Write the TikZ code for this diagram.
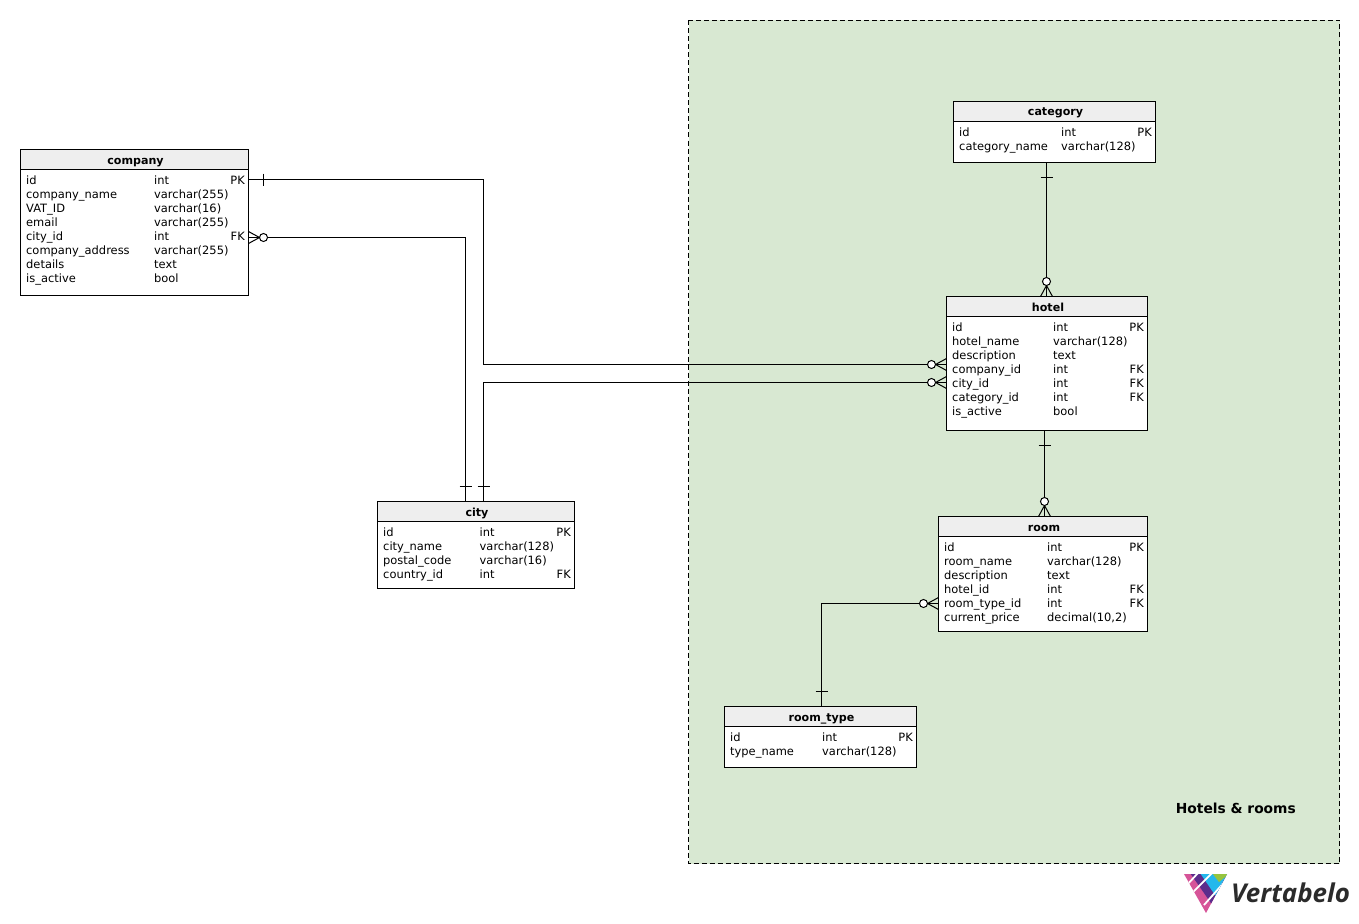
\documentclass[tikz,border=0pt]{standalone}
\usepackage{fontspec}
\setmainfont{DejaVu Sans}
\newfontfamily\logofont{Open Sans}
\usetikzlibrary{calc}
\definecolor{ink}{RGB}{0,0,0}
\definecolor{zonegreen}{RGB}{216,232,210}
\definecolor{headgrey}{RGB}{238,238,238}
\definecolor{logopink}{RGB}{214,84,152}
\definecolor{logopurple}{RGB}{92,45,140}
\definecolor{logoblue}{RGB}{36,184,236}
\definecolor{logogreen}{RGB}{150,196,62}
\definecolor{logotext}{RGB}{43,43,43}
\tikzset{
    line cap=butt,
    tablebox/.style={
        rectangle,
        draw=ink,
        line width=1pt,
        fill=white,
        anchor=north west,
        outer sep=0pt,
        inner sep=0pt
    },
    tablehead/.style={
        rectangle,
        draw=ink,
        line width=1pt,
        fill=headgrey,
        anchor=north west,
        outer sep=0pt,
        inner sep=0pt,
        text height=11pt,
        text depth=2pt,
        font=\fontsize{11.1}{14}\selectfont\bfseries
    },
    rowtext/.style={
        anchor=west,
        inner sep=0pt,
        text height=11pt,
        text depth=2pt,
        font=\fontsize{11.45}{14}\selectfont
    },
    keytext/.style={rowtext, anchor=east},
    relation/.style={draw=ink, line width=1pt},
    zonebox/.style={
        draw=ink,
        line width=1pt,
        fill=zonegreen,
        dash pattern=on 5pt off 3pt
    },
    zonetitle/.style={
        inner sep=0pt,
        font=\fontsize{13.8}{16}\selectfont\bfseries
    },
    logogap/.style={draw=white, line width=1.8pt},
    onemark/.pic={
        \draw[relation] (0,-6) -- (0,6);
    },
    manymark/.pic={
        \draw[relation] (0,-6) -- (-11,0) -- (0,6);
        \draw[relation] (-11,0) -- (0,0);
        \draw[relation, fill=white] (-15,0) circle (4);
    }
}
% name, left, top, width, height, col2, key right edge, rows
\newcommand{\dbtable}[8]{
    \node[tablebox, minimum width=#4pt, minimum height=#5pt] (#1) at (#2,#3) {};
    \node[tablehead, minimum width=#4pt, minimum height=20pt] (#1-head) at (#2,#3) {\hspace*{2pt}\detokenize{#1}};
    \foreach \cname/\ctype/\ckey [count=\i from 0] in {#8} {
        \node[rowtext] (#1-\cname) at (#2+5.5,#3+30+14*\i) {\detokenize\expandafter{\cname}};
        \node[rowtext] at (#2+#6,#3+30+14*\i) {\ctype};
        \node[keytext] at (#2+#7,#3+30+14*\i) {\ckey};
    }
}
\begin{document}
\begin{tikzpicture}[x=1pt, y=-1pt]
\useasboundingbox (0,0) rectangle (1359,923);

% subject area
\path[zonebox] (688.5,20.5) rectangle (1339.5,863.5);
\node[zonetitle, anchor=east] (zonelabel) at (1296,808) {Hotels \& rooms};

% tables
\dbtable{company}{20.5}{149.5}{228}{146}{133.5}{224.5}{
    id/int/PK, company_name/varchar(255)/, VAT_ID/varchar(16)/, email/varchar(255)/,
    city_id/int/FK, company_address/varchar(255)/, details/text/, is_active/bool/}
\dbtable{category}{953.5}{101.5}{202}{61}{107.5}{198.5}{
    id/int/PK, category_name/varchar(128)/}
\dbtable{hotel}{946.5}{296.5}{201}{134}{106.5}{197.5}{
    id/int/PK, hotel_name/varchar(128)/, description/text/, company_id/int/FK,
    city_id/int/FK, category_id/int/FK, is_active/bool/}
\dbtable{room}{938.5}{516.5}{209}{115}{108.5}{205.5}{
    id/int/PK, room_name/varchar(128)/, description/text/, hotel_id/int/FK,
    room_type_id/int/FK, current_price/{decimal(10,2)}/}
\dbtable{city}{377.5}{501.5}{197}{87}{102}{193.5}{
    id/int/PK, city_name/varchar(128)/, postal_code/varchar(16)/, country_id/int/FK}
\dbtable{room_type}{724.5}{706.5}{192}{61}{97.5}{188.5}{
    id/int/PK, type_name/varchar(128)/}

% relations
\draw[relation] (company.east |- company-id) -- (483.5,179.5) |- ([yshift=4pt]hotel.west |- hotel-company_id);
\draw[relation] ([yshift=-2pt]company.east |- company-city_id) -| (city.north -| 465.5,0);
\draw[relation] (city.north -| 483.5,0) |- (hotel.west |- hotel-city_id);
\draw[relation] (category.south -| 1046.5,0) -- (hotel.north -| 1046.5,0);
\draw[relation] (hotel.south -| 1044.5,0) -- (room.north -| 1044.5,0);
\draw[relation] (room_type.north -| 821.5,0) |- ([yshift=-1pt]room.west |- room-room_type_id);

% line ends
\path (263.5,179.5) pic {onemark};
\path (248.5,237.5) pic[rotate=180] {manymark};
\path (465.5,486.5) pic[rotate=90] {onemark};
\path (483.5,486.5) pic[rotate=90] {onemark};
\path (946.5,364.5) pic {manymark};
\path (946.5,382.5) pic {manymark};
\path (1046.5,177) pic[rotate=90] {onemark};
\path (1046.5,296.5) pic[rotate=-90] {manymark};
\path (1044.5,445.5) pic[rotate=90] {onemark};
\path (1044.5,516.5) pic[rotate=-90] {manymark};
\path (821.5,691.5) pic[rotate=90] {onemark};
\path (938.5,603.5) pic {manymark};

% logo
\begin{scope}
\clip (1184,874) -- (1227,874) -- (1206,913) -- cycle;
\fill[logopink] (1184,874) rectangle (1227,913);
\fill[logopurple] (1190,873) -- (1213,906) -- (1230,906) -- (1230,873) -- cycle;
\fill[logoblue] (1200,873) -- (1217,898) -- (1230,898) -- (1230,873) -- cycle;
\fill[logogreen] (1212,873) -- (1219,882) -- (1230,873) -- cycle;
\draw[logogap] (1198,873) -- (1186,886);
\draw[logogap] (1212,873) -- (1192,893);
\draw[logogap] (1228,878) -- (1204,905);
\end{scope}
\node[anchor=west, inner sep=0pt, text=logotext, font=\logofont\fontsize{25.9}{30}\selectfont\bfseries\itshape] (logotext) at (1231,893) {Vertabelo};

\end{tikzpicture}
\end{document}
